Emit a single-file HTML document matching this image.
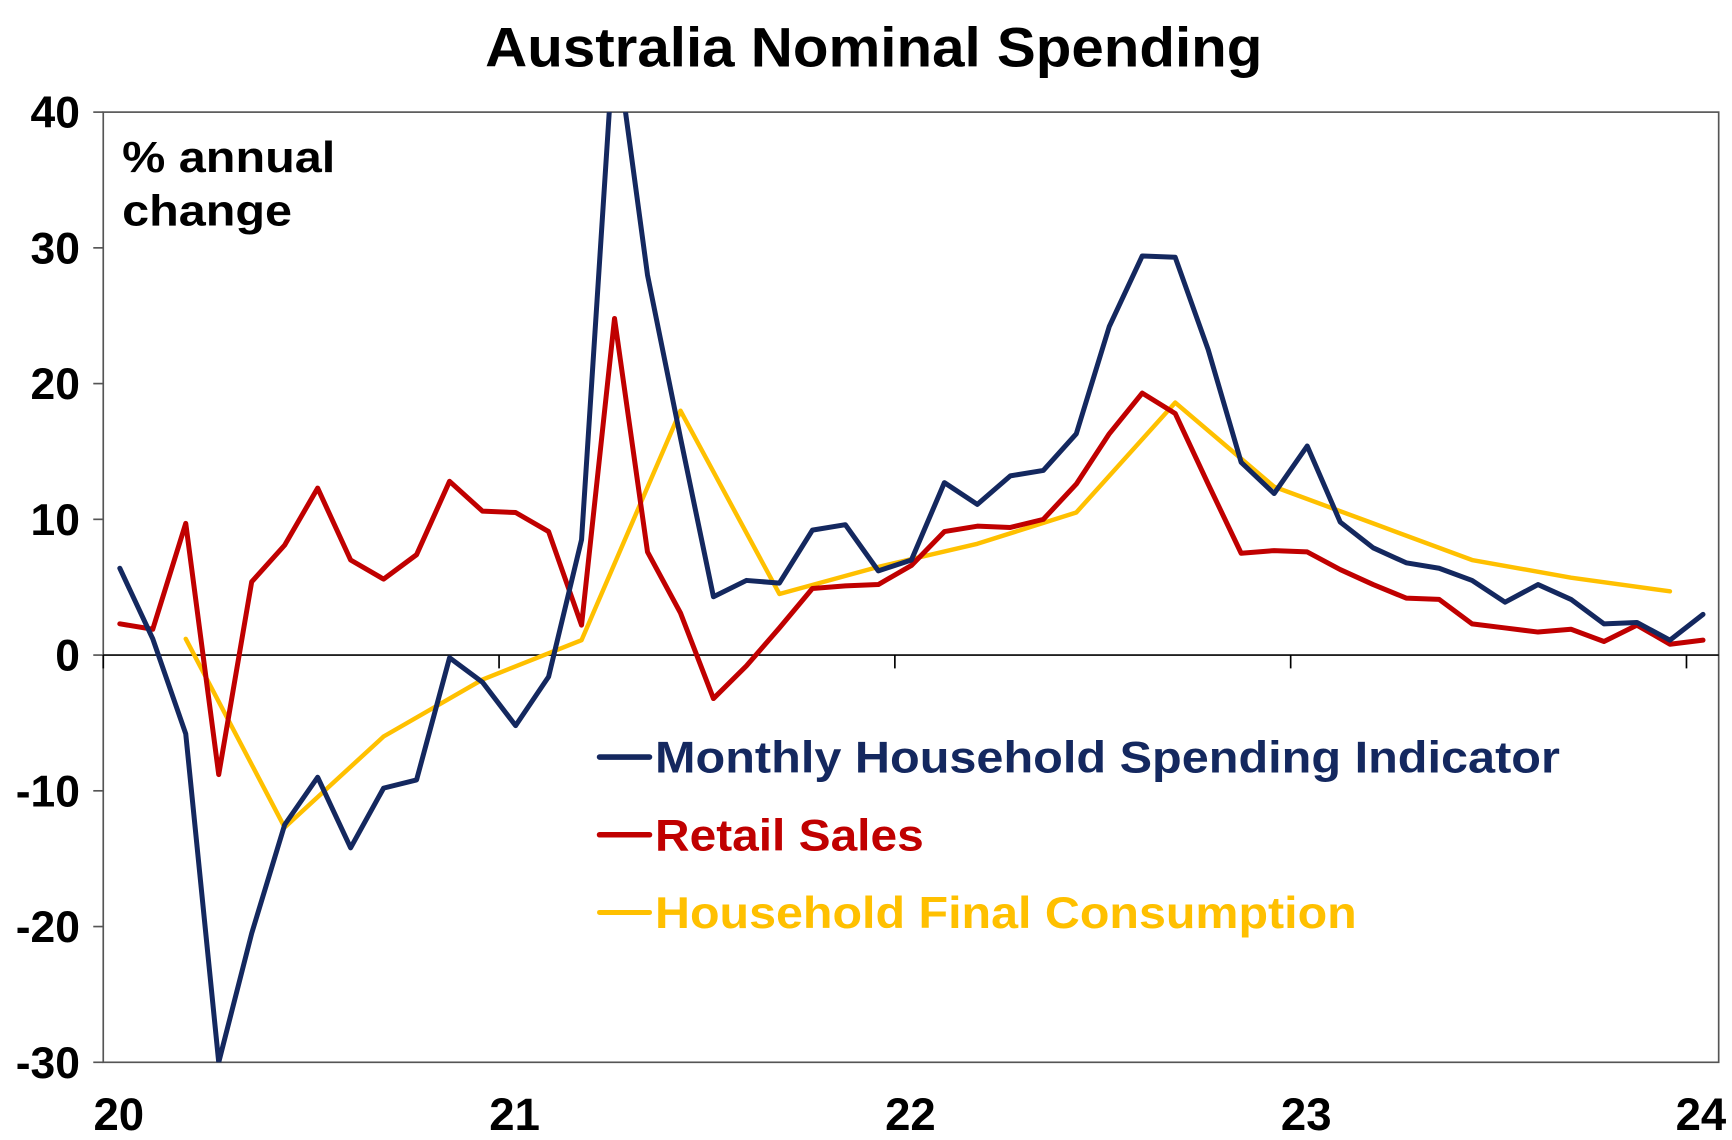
<!DOCTYPE html>
<html><head><meta charset="utf-8"><style>
html,body{margin:0;padding:0;background:#fff;}
svg{display:block;font-family:"Liberation Sans",Arial,sans-serif;font-weight:bold;}
</style></head><body>
<svg id="chart" width="1732" height="1140" viewBox="0 0 1560 1027" preserveAspectRatio="none">
<defs><clipPath id="clip"><rect x="93" y="101" width="1455" height="856"/></clipPath></defs>
<text x="787" y="60" text-anchor="middle" font-size="50" textLength="700" lengthAdjust="spacingAndGlyphs" fill="#000">Australia Nominal Spending</text>
<rect x="93" y="101" width="1455" height="856" fill="none" stroke="#555" stroke-width="1.5"/>
<g id="yaxis"></g>
<g id="xaxis"></g>
<g id="series" clip-path="url(#clip)"></g>
<text x="110" y="155" font-size="39" textLength="192" lengthAdjust="spacingAndGlyphs" fill="#000">% annual</text>
<text x="110" y="203" font-size="39" textLength="153" lengthAdjust="spacingAndGlyphs" fill="#000">change</text>
<g>
<line x1="540" y1="682" x2="585" y2="682" stroke="#14285f" stroke-width="5" stroke-linecap="round"/>
<text x="590" y="696" font-size="40" textLength="815" lengthAdjust="spacingAndGlyphs" fill="#14285f">Monthly Household Spending Indicator</text>
<line x1="540" y1="752" x2="585" y2="752" stroke="#c00000" stroke-width="5" stroke-linecap="round"/>
<text x="590" y="766" font-size="40" textLength="242" lengthAdjust="spacingAndGlyphs" fill="#c00000">Retail Sales</text>
<line x1="540" y1="822" x2="585" y2="822" stroke="#ffc000" stroke-width="4.5" stroke-linecap="round"/>
<text x="590" y="836" font-size="40" textLength="632" lengthAdjust="spacingAndGlyphs" fill="#ffc000">Household Final Consumption</text>
</g>
</svg>
<script>
const yTicks=[40,30,20,10,0,-10,-20,-30];
const yTickLabels=["40","30","20","10","0","-10","-20","-30"];
const xYears=[20,21,22,23,24];
const xYearLabels=["20","21","22","23","24"];
const mhsi=[6.4,1.2,-5.8,-30,-20.5,-12.5,-9,-14.2,-9.8,-9.2,-0.2,-2,-5.2,-1.6,8.5,46,28,16,4.3,5.5,5.3,9.2,9.6,6.2,7,12.7,11.1,13.2,13.6,16.3,24.2,29.4,29.3,22.5,14.2,11.9,15.4,9.8,7.9,6.8,6.4,5.5,3.9,5.2,4.1,2.3,2.4,1.1,3.0];
const retail=[2.3,1.9,9.7,-8.8,5.4,8.1,12.3,7.0,5.6,7.4,12.8,10.6,10.5,9.1,2.2,24.8,7.6,3.1,-3.2,-0.8,2.0,4.9,5.1,5.2,6.6,9.1,9.5,9.4,10.0,12.6,16.3,19.3,17.8,12.6,7.5,7.7,7.6,6.3,5.2,4.2,4.1,2.3,2.0,1.7,1.9,1.0,2.2,0.8,1.1];
const hfcMonths=[2,5,8,11,14,17,20,23,26,29,32,35,38,41,44,47];
const hfc=[1.2,-12.7,-6,-1.8,1.1,18,4.5,6.5,8.2,10.5,18.6,12.4,9.7,7.0,5.7,4.7];

const NS="http://www.w3.org/2000/svg";
const x0=93,yearW=356.5,yTop=101,yBot=957,vMax=40,vMin=-30;
function xMonth(m){return x0+(m+0.5)*yearW/12;}
function xYear(yr){return x0+(yr-20)*yearW;}
function yv(v){return yTop+(vMax-v)*(yBot-yTop)/(vMax-vMin);}
function mk(tag,attrs,parent){const e=document.createElementNS(NS,tag);for(const k in attrs)e.setAttribute(k,attrs[k]);parent.appendChild(e);return e;}
const yax=document.getElementById('yaxis'),xax=document.getElementById('xaxis'),ser=document.getElementById('series');
yTicks.forEach((v,i)=>{
  const t=mk('text',{x:72,y:yv(v)+14,'text-anchor':'end','font-size':40,fill:'#000'},yax);
  t.textContent=yTickLabels[i];
  
  
  const l=mk('line',{x1:84,x2:93,y1:yv(v),y2:yv(v),stroke:'#555','stroke-width':1.5},yax);
  
  
});
const z=mk('line',{x1:93,x2:1548,y1:yv(0),y2:yv(0),stroke:'#000','stroke-width':1.5},xax);


xYears.forEach((yr,i)=>{
  const xx=xYear(yr);
  const l=mk('line',{x1:xx,x2:xx,y1:yv(0),y2:yv(0)+12,stroke:'#000','stroke-width':1.5},xax);
  
  
  const t=mk('text',{x:Math.min(xx+14,1532),y:1018,'text-anchor':'middle','font-size':41,fill:'#000'},xax);
  t.textContent=xYearLabels[i];
  
  
});
function line(xs,vals,color,w,name){
  const p=mk('polyline',{points:vals.map((v,i)=>xs[i].toFixed(1)+','+yv(v).toFixed(1)).join(' '),fill:'none',stroke:color,'stroke-width':w,'stroke-linejoin':'round','stroke-linecap':'round'},ser);
  
  
}
line(hfcMonths.map(xMonth),hfc,'#ffc000',4,'series-household-final-consumption');
line(retail.map((_,i)=>xMonth(i)),retail,'#c00000',4.5,'series-retail-sales');
line(mhsi.map((_,i)=>xMonth(i)),mhsi,'#14285f',4.5,'series-monthly-household-spending');
</script>
</body></html>
